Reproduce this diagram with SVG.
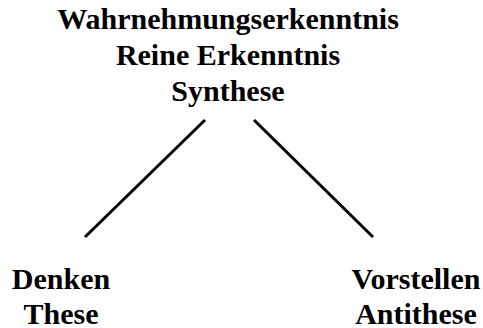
<svg xmlns="http://www.w3.org/2000/svg" width="483" height="328" viewBox="0 0 483 328">
<style>
text{font-family:"Liberation Serif","Times New Roman",serif;font-weight:bold;font-size:30px;fill:#000;text-anchor:middle}
.c line{stroke:#000;stroke-width:3}
</style>
<rect width="483" height="328" fill="#fff"/>
<g id="top"><text x="228" y="29">Wahrnehmungserkenntnis</text><text x="228" y="65">Reine Erkenntnis</text><text x="228" y="101">Synthese</text></g>
<g id="left"><text x="61" y="289">Denken</text><text x="61" y="324">These</text></g>
<g id="right"><text x="416" y="289">Vorstellen</text><text x="416" y="324">Antithese</text></g>
<g class="c"><line x1="205" y1="120" x2="85" y2="237"/><line x1="254" y1="120" x2="373" y2="237"/></g>
</svg>
